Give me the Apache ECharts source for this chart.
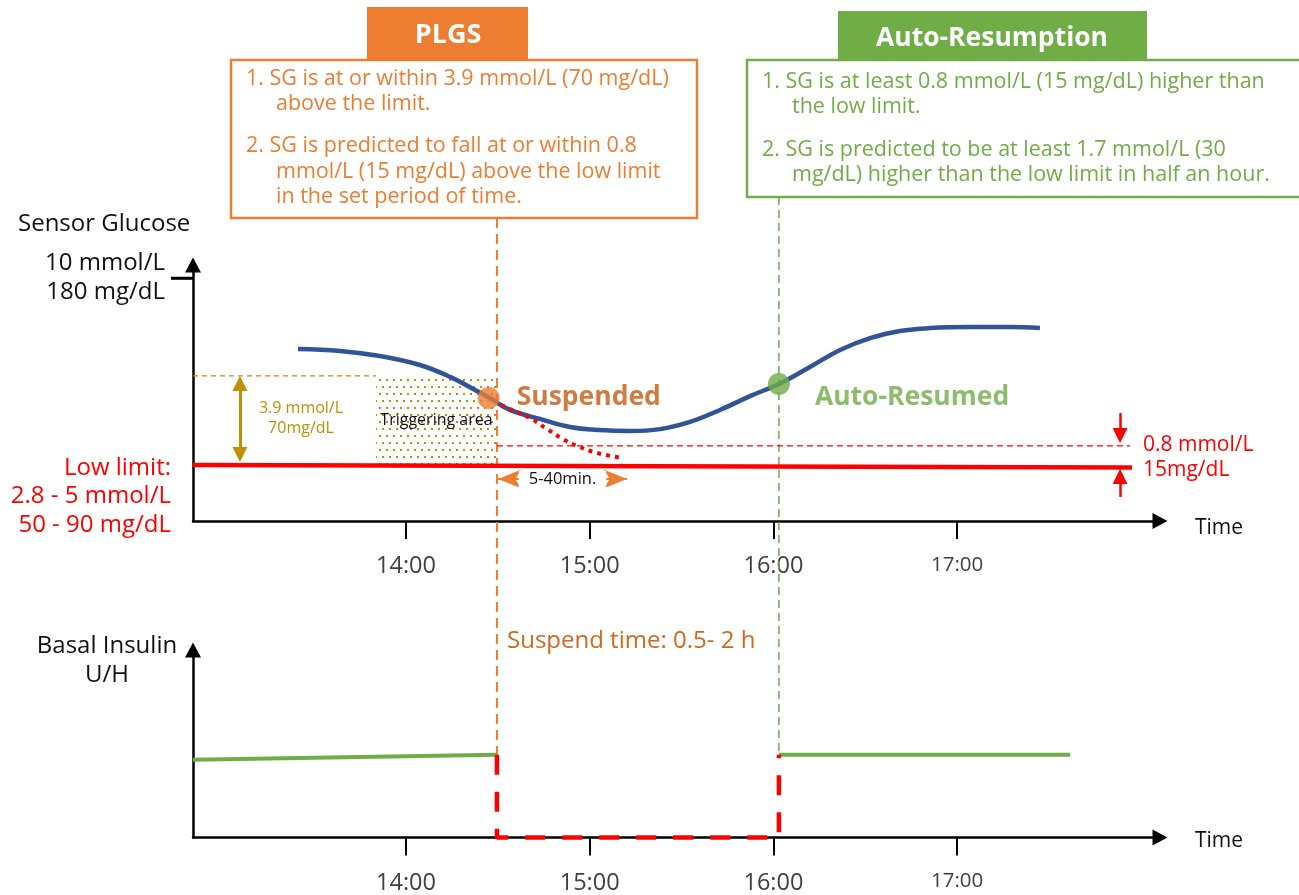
<!DOCTYPE html>
<html><head><meta charset="utf-8">
<script src="https://cdn.jsdelivr.net/npm/echarts@6/dist/echarts.min.js"></script>
<style>html,body{margin:0;padding:0;background:#fff}#c{width:1299px;height:895px}</style>
</head><body><div id="c"></div>
<script>
// ---------- data (time in hours, glucose in schematic mmol/L units) ----------
const axisRange = [12.8405, 18.1045];
const tickHours = [14, 15, 16, 17];
const tickLabels = ['14:00', '15:00', '16:00', '17:00'];
const sgTopTick = [10];
const sgTopLabel = ['10 mmol/L', '180 mg/dL'];

const sgTimes  = [13.412, 13.641, 13.858, 14.076, 14.240, 14.376, 14.457, 14.566, 14.729, 14.893, 15.056, 15.219, 15.383, 15.546, 15.709, 15.873, 16.030, 16.199, 16.363, 16.526, 16.689, 16.852, 17.070, 17.288, 17.451];
const sgValues = [7.08, 7.00, 6.79, 6.42, 5.93, 5.39, 5.06, 4.57, 4.20, 3.87, 3.74, 3.70, 3.78, 4.08, 4.57, 5.14, 5.64, 6.34, 7.04, 7.53, 7.82, 7.94, 7.98, 7.98, 7.94];

const predTimes  = [14.517, 14.577, 14.675, 14.767, 14.854, 14.931, 15.040, 15.176];
const predValues = [4.77, 4.57, 4.24, 3.79, 3.37, 3.09, 2.80, 2.59];

const lowLimitTimes  = [12.8405, 17.952];
const lowLimitValues = [2.30, 2.20];
const resumeThresholdTimes  = [14.495, 17.941];
const resumeThresholdValues = [3.09, 3.09];

const triggerStart = 13.837;
const triggerTop = 5.97;
const suspendTime = 14.495;
const resumeTime = 16.03;
const suspendPoint = [14.45, 5.06];
const resumePoint = [16.03, 5.64];

const goldArrowTime = 13.096;
const goldArrowValues = [5.66, 2.74];
const windowArrowTimes = [14.501, 15.203];
const windowArrowValue = 1.73;
const redArrowTime = 17.887;
const redDownArrow = [4.44, 3.52];
const redUpArrow = [0.99, 1.83];

const basalBeforeTimes  = [12.8405, 14.495];
const basalBeforeValues = [4.15, 4.41];
const basalAfterTimes   = [16.03, 17.615];
const basalAfterValues  = [4.41, 4.41];
const suspendedBasal = 0;

// ---------- helpers ----------
const zip = (a, b) => a.map((v, i) => [v, b[i]]);
const FONT = '"Open Sans", "Noto Sans", sans-serif';
const ORANGE = '#ED7D31', GREEN = '#70AD47', RED = '#FF0000', GOLD = '#BF9000', BLUE = '#2F5597';

const pat = document.createElement('canvas');
pat.width = 7; pat.height = 14;
const pctx = pat.getContext('2d');
pctx.fillStyle = '#B8900A';
pctx.fillRect(1, 1, 2, 2);
pctx.fillRect(4, 8, 2, 2);

function xAxisCfg(gridIndex) {
  return {
    type: 'value', gridIndex, min: axisRange[0], max: axisRange[1],
    axisLine: { show: true, symbol: ['none', 'triangle'], symbolSize: [16, 15], lineStyle: { color: '#000', width: 2.5 } },
    axisTick: { show: true, customValues: tickHours, length: 18, inside: false, lineStyle: { color: '#000', width: 2 } },
    axisLabel: {
      show: true, customValues: tickHours, margin: 33.5, color: '#404040', fontFamily: FONT, fontSize: 23.5,
      formatter: v => { const i = tickHours.indexOf(v); return i === 3 ? '{s|' + tickLabels[i] + '}' : tickLabels[i]; },
      rich: { s: { fontSize: 20.5, color: '#404040', fontFamily: FONT } }
    },
    splitLine: { show: false }
  };
}

const chart = echarts.init(document.getElementById('c'));
const option = {
  animation: false,
  backgroundColor: '#fff',
  grid: [
    { left: 193, top: 265, width: 967, height: 256 },
    { left: 193, top: 650, width: 967, height: 188 }
  ],
  xAxis: [xAxisCfg(0), xAxisCfg(1)],
  yAxis: [
    {
      type: 'value', gridIndex: 0, min: 0, max: 10.535,
      axisLine: { show: true, symbol: ['none', 'triangle'], symbolSize: [16, 15], lineStyle: { color: '#000', width: 2.5 } },
      axisTick: { show: true, customValues: sgTopTick, length: 22, inside: false, lineStyle: { color: '#000', width: 2.5 } },
      axisLabel: { show: true, customValues: sgTopTick, margin: 28, color: '#111', fontFamily: FONT, fontSize: 24, lineHeight: 29,
        formatter: () => sgTopLabel.join('\n') },
      splitLine: { show: false }
    },
    {
      type: 'value', gridIndex: 1, min: 0, max: 10,
      axisLine: { show: true, symbol: ['none', 'triangle'], symbolSize: [16, 15], lineStyle: { color: '#000', width: 2.5 } },
      axisTick: { show: false }, axisLabel: { show: false }, splitLine: { show: false }
    }
  ],
  series: [
    // triggering area
    {
      type: 'line', xAxisIndex: 0, yAxisIndex: 0, z: 1, symbol: 'none',
      data: zip([axisRange[0], triggerStart], [triggerTop, triggerTop]),
      lineStyle: { color: GOLD, width: 1.2, type: [5, 4] },
      markArea: {
        silent: true,
        itemStyle: { color: { image: pat, repeat: 'repeat' } },
        label: { show: true, position: 'inside', formatter: 'Triggering area', color: '#111', fontSize: 16, fontFamily: FONT },
        data: [[{ coord: [triggerStart, lowLimitValues[0]] }, { coord: [suspendTime, triggerTop] }]]
      },
      markLine: {
        silent: true, symbol: ['triangle', 'triangle'], symbolSize: [15, 15],
        lineStyle: { color: GOLD, width: 3, type: 'solid' }, label: { show: false },
        data: [[{ coord: [goldArrowTime, goldArrowValues[0]] }, { coord: [goldArrowTime, goldArrowValues[1]] }]]
      }
    },
    // low limit
    {
      type: 'line', xAxisIndex: 0, yAxisIndex: 0, z: 3, symbol: 'none', clip: false,
      data: zip(lowLimitTimes, lowLimitValues),
      lineStyle: { color: RED, width: 4.5 },
      markLine: {
        silent: true, symbol: ['none', 'triangle'], symbolSize: [15, 15],
        lineStyle: { color: RED, width: 2.5, type: 'solid' }, label: { show: false },
        data: [
          [{ coord: [redArrowTime, redDownArrow[0]] }, { coord: [redArrowTime, redDownArrow[1]] }],
          [{ coord: [redArrowTime, redUpArrow[0]] }, { coord: [redArrowTime, redUpArrow[1]] }]
        ]
      }
    },
    // resume threshold (0.8 mmol/L above low limit)
    {
      type: 'line', xAxisIndex: 0, yAxisIndex: 0, z: 2, symbol: 'none',
      data: zip(resumeThresholdTimes, resumeThresholdValues),
      lineStyle: { color: RED, width: 1.2, type: [6, 4] },
      markLine: {
        silent: true, symbol: ['arrow', 'arrow'], symbolSize: [14, 23],
        lineStyle: { color: ORANGE, width: 2, type: 'solid' },
        label: { show: true, position: 'middle', offset: [0, 14], formatter: '5-40min.', color: '#111', fontSize: 16.5, fontFamily: FONT,
          backgroundColor: '#fff', padding: [0, 10] },
        data: [[{ coord: [windowArrowTimes[0], windowArrowValue] }, { coord: [windowArrowTimes[1], windowArrowValue] }]]
      }
    },
    // sensor glucose
    {
      type: 'line', xAxisIndex: 0, yAxisIndex: 0, z: 5, symbol: 'none', smooth: 0.4,
      data: zip(sgTimes, sgValues),
      lineStyle: { color: BLUE, width: 4.5 }
    },
    // predicted SG
    {
      type: 'line', xAxisIndex: 0, yAxisIndex: 0, z: 6, symbol: 'none', smooth: 0.4,
      data: zip(predTimes, predValues),
      lineStyle: { color: RED, width: 4, type: [4, 5], cap: 'butt' }
    },
    // suspend / resume points
    {
      type: 'scatter', xAxisIndex: 0, yAxisIndex: 0, z: 7, symbolSize: 22,
      data: [
        { value: suspendPoint, itemStyle: { color: ORANGE },
          label: { show: true, position: 'right', distance: 17, offset: [0, -1], formatter: 'Suspended',
            color: '#C55A11', fontSize: 26.5, fontWeight: 'bold', fontFamily: FONT } },
        { value: resumePoint, itemStyle: { color: GREEN },
          label: { show: true, position: 'right', distance: 25, offset: [0, 14], formatter: 'Auto-Resumed',
            color: GREEN, fontSize: 26.5, fontWeight: 'bold', fontFamily: FONT } }
      ]
    },
    // basal insulin
    {
      type: 'line', xAxisIndex: 1, yAxisIndex: 1, z: 3, symbol: 'none', clip: false,
      data: zip(basalBeforeTimes, basalBeforeValues), lineStyle: { color: GREEN, width: 4 }
    },
    {
      type: 'line', xAxisIndex: 1, yAxisIndex: 1, z: 3, symbol: 'none', clip: false,
      data: zip(basalAfterTimes, basalAfterValues), lineStyle: { color: GREEN, width: 4 }
    },
    {
      type: 'line', xAxisIndex: 1, yAxisIndex: 1, z: 4, symbol: 'none', clip: false,
      data: [[suspendTime, basalBeforeValues[1]], [suspendTime, suspendedBasal], [resumeTime, suspendedBasal], [resumeTime, basalAfterValues[0]]],
      lineStyle: { color: RED, width: 4.5, type: [20, 17], cap: 'butt' }
    }
  ]
};
chart.setOption(option);

function txt(x, y, text, size, color, align, weight) {
  return { type: 'text', x, y, z: 10,
    style: { text, fill: color, font: (weight || 'normal') + ' ' + size + 'px ' + FONT,
      fontSize: size, fontFamily: FONT, fontWeight: weight || 'normal',
      align: align || 'left', textAlign: align || 'left', verticalAlign: 'middle', textVerticalAlign: 'middle' } };
}

const xs = chart.convertToPixel({ xAxisIndex: 0 }, suspendTime);
const xr = chart.convertToPixel({ xAxisIndex: 0 }, resumeTime);
const axisLeftPx = chart.convertToPixel({ xAxisIndex: 0 }, axisRange[0]);
const topTickY = chart.convertToPixel({ yAxisIndex: 0 }, sgTopTick[0]);
const xAxisRight = chart.convertToPixel({ xAxisIndex: 0 }, axisRange[1]);

const graphics = [
  { type: 'line', z: 1, shape: { x1: xs, y1: 218, x2: xs, y2: 755 }, style: { stroke: ORANGE, lineWidth: 2, lineDash: [10, 6] } },
  { type: 'line', z: 1, shape: { x1: xr, y1: 197, x2: xr, y2: 755 }, style: { stroke: GREEN, lineWidth: 1.5, lineDash: [8, 5] } },
  { type: 'rect', z: 12, shape: { x: axisLeftPx - 22, y: topTickY - 1.25, width: 22, height: 2.5 }, style: { fill: '#000' } },
  // PLGS box
  { type: 'rect', z: 5, shape: { x: 231, y: 60, width: 466, height: 158 }, style: { fill: '#fff', stroke: ORANGE, lineWidth: 2.5 } },
  { type: 'rect', z: 6, shape: { x: 367, y: 7, width: 161, height: 53 }, style: { fill: ORANGE } },
  txt(448, 35, 'PLGS', 27, '#fff', 'center', 'bold'),
  txt(246, 79, '1. SG is at or within 3.9 mmol/L (70 mg/dL)', 21.5, ORANGE),
  txt(276, 104, 'above the limit.', 21.5, ORANGE),
  txt(246, 146, '2. SG is predicted to fall at or within 0.8', 21.5, ORANGE),
  txt(276, 172, 'mmol/L (15 mg/dL) above the low limit', 21.5, ORANGE),
  txt(276, 197, 'in the set period of time.', 21.5, ORANGE),
  // Auto-resumption box
  { type: 'rect', z: 5, shape: { x: 747, y: 60, width: 560, height: 137 }, style: { fill: '#fff', stroke: GREEN, lineWidth: 2.5 } },
  { type: 'rect', z: 6, shape: { x: 838, y: 11, width: 309, height: 49 }, style: { fill: GREEN } },
  txt(992, 38, 'Auto-Resumption', 26.5, '#fff', 'center', 'bold'),
  txt(762, 82, '1. SG is at least 0.8 mmol/L (15 mg/dL) higher than', 21.5, GREEN),
  txt(792, 107, 'the low limit.', 21.5, GREEN),
  txt(762, 150, '2. SG is predicted to be at least 1.7 mmol/L (30', 21.5, GREEN),
  txt(792, 175, 'mg/dL) higher than the low limit in half an hour.', 21.5, GREEN),
  // axis captions
  txt(18, 224, 'Sensor Glucose', 24, '#111'),
  txt(171, 468, 'Low limit:', 24, RED, 'right'),
  txt(171, 496, '2.8 - 5 mmol/L', 24, RED, 'right'),
  txt(171, 525, '50 - 90 mg/dL', 24, RED, 'right'),
  txt(107, 646, 'Basal Insulin', 24, '#111', 'center'),
  txt(107, 675, 'U/H', 24, '#111', 'center'),
  txt(xAxisRight + 35, 528, 'Time', 21, '#111'),
  txt(xAxisRight + 35, 841, 'Time', 21, '#111'),
  txt(507, 641, 'Suspend time: 0.5- 2 h', 24, '#D0691F'),
  txt(301, 408, '3.9 mmol/L', 16, GOLD, 'center'),
  txt(301, 428, '70mg/dL', 16, GOLD, 'center'),
  txt(1143, 445, '0.8 mmol/L', 21, RED),
  txt(1143, 470, '15mg/dL', 21, RED)
];
chart.setOption({ graphic: graphics });
</script>
</body></html>
